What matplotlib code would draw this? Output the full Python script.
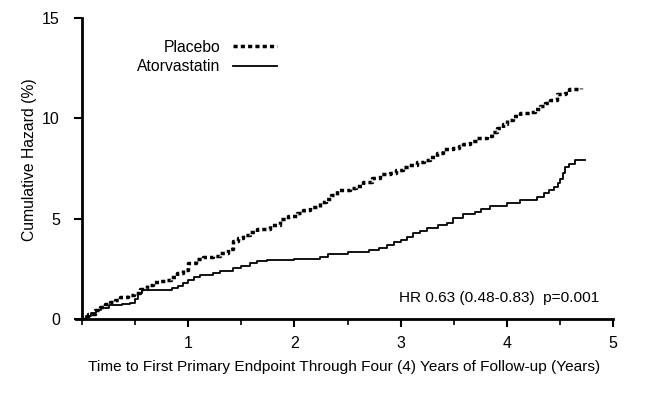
import matplotlib
matplotlib.use("Agg")
import matplotlib.pyplot as plt
from matplotlib.ticker import MultipleLocator

plt.rcParams.update({
    "font.family": ["Liberation Sans", "DejaVu Sans"],
    "font.size": 11,
})

# Placebo cumulative hazard (%) step points
placebo_t = [0, 0.06, 0.12, 0.17, 0.22, 0.26, 0.31, 0.36, 0.43, 0.49, 0.55, 0.61,
             0.67, 0.72, 0.78, 0.84, 0.89, 0.95, 1.0, 1.07, 1.14, 1.23, 1.30, 1.37,
             1.42, 1.47, 1.52, 1.58, 1.65, 1.77, 1.86, 1.94, 2.02, 2.08, 2.15, 2.24,
             2.30, 2.34, 2.40, 2.52, 2.58, 2.65, 2.73, 2.81, 2.90, 2.96, 3.02, 3.08,
             3.15, 3.22, 3.28, 3.34, 3.40, 3.49, 3.55, 3.59, 3.65, 3.72, 3.81, 3.86,
             3.91, 3.96, 4.0, 4.06, 4.12, 4.22, 4.27, 4.31, 4.36, 4.41, 4.47, 4.55,
             4.59, 4.70]
placebo_h = [0, 0.25, 0.45, 0.6, 0.75, 0.85, 0.95, 1.1, 1.2, 1.3, 1.5, 1.7,
             1.85, 1.9, 1.95, 2.1, 2.3, 2.45, 2.8, 3.0, 3.1, 3.15, 3.3, 3.5,
             3.9, 4.05, 4.2, 4.35, 4.5, 4.7, 5.0, 5.15, 5.3, 5.45, 5.6, 5.85,
             6.0, 6.2, 6.45, 6.55, 6.65, 6.85, 7.05, 7.25, 7.3, 7.45, 7.55, 7.65,
             7.8, 7.9, 8.05, 8.25, 8.45, 8.5, 8.6, 8.7, 8.85, 9.0, 9.1, 9.3,
             9.5, 9.7, 9.9, 10.1, 10.25, 10.3, 10.45, 10.6, 10.75, 10.9, 11.2, 11.25,
             11.45, 11.5]

# Atorvastatin cumulative hazard (%) step points
atorva_t = [0, 0.04, 0.08, 0.13, 0.18, 0.25, 0.38, 0.45, 0.50, 0.53, 0.56, 0.85,
            0.90, 0.95, 1.0, 1.05, 1.11, 1.23, 1.30, 1.42, 1.50, 1.58, 1.65, 1.74,
            2.0, 2.24, 2.32, 2.50, 2.70, 2.80, 2.87, 2.94, 3.0, 3.06, 3.12, 3.18,
            3.25, 3.35, 3.44, 3.49, 3.59, 3.70, 3.76, 3.84, 4.0, 4.12, 4.28, 4.35,
            4.40, 4.44, 4.48, 4.50, 4.53, 4.55, 4.59, 4.64, 4.74]
atorva_h = [0, 0.15, 0.3, 0.45, 0.55, 0.7, 0.75, 0.8, 1.0, 1.3, 1.45, 1.55,
            1.65, 1.8, 1.95, 2.1, 2.2, 2.3, 2.4, 2.55, 2.65, 2.8, 2.9, 2.95,
            3.0, 3.1, 3.25, 3.35, 3.45, 3.55, 3.7, 3.85, 3.95, 4.1, 4.3, 4.4,
            4.55, 4.7, 4.8, 5.05, 5.25, 5.35, 5.5, 5.65, 5.8, 5.95, 6.1, 6.3,
            6.45, 6.6, 6.8, 7.0, 7.3, 7.55, 7.7, 7.9, 7.9]

x_ticks = [1, 2, 3, 4, 5]
y_ticks = [0, 5, 10, 15]

fig = plt.figure(figsize=(6.51, 4.04), dpi=100)
ax = fig.add_axes([76 / 651, 1 - 319 / 404, (613 - 76) / 651, 301 / 404])

ax.step(placebo_t, placebo_h, where="post", color="black", lw=2.5,
        ls=(0, (1.2, 0.9)), dash_capstyle="butt", label="Placebo")
ax.step(atorva_t, atorva_h, where="post", color="black", lw=1.3,
        label="Atorvastatin")

ax.set_xlim(-0.057, 5)
ax.set_ylim(0, 15)
ax.spines["left"].set_position(("data", 0))
ax.spines["right"].set_visible(False)
ax.spines["top"].set_visible(False)
for s in ("left", "bottom"):
    ax.spines[s].set_linewidth(2)

ax.set_xticks(x_ticks)
ax.xaxis.set_minor_locator(MultipleLocator(0.5))
ax.set_yticks(y_ticks)
ax.tick_params(axis="both", which="major", width=1.5, length=6, labelsize=11.5)
ax.tick_params(axis="x", which="minor", width=1.2, length=4)
ax.tick_params(axis="x", pad=6)
ax.tick_params(axis="y", pad=10)

ax.set_xlabel("Time to First Primary Endpoint Through Four (4) Years of Follow-up (Years)",
              fontsize=11.1, labelpad=7)
ax.set_ylabel("Cumulative Hazard (%)", fontsize=11.3)
ax.yaxis.set_label_coords(-0.073, 0.53)

ax.text(0.975, 0.07, "HR 0.63 (0.48-0.83)  p=0.001", transform=ax.transAxes,
        ha="right", va="center", fontsize=11.1)

ax.legend(loc="upper right", bbox_to_anchor=(0.395, 0.965), frameon=False,
          markerfirst=False, handlelength=2.8, fontsize=11.3, labelspacing=0.3,
          borderpad=0.2, handletextpad=0.8)

fig.savefig("out.png", dpi=100)
